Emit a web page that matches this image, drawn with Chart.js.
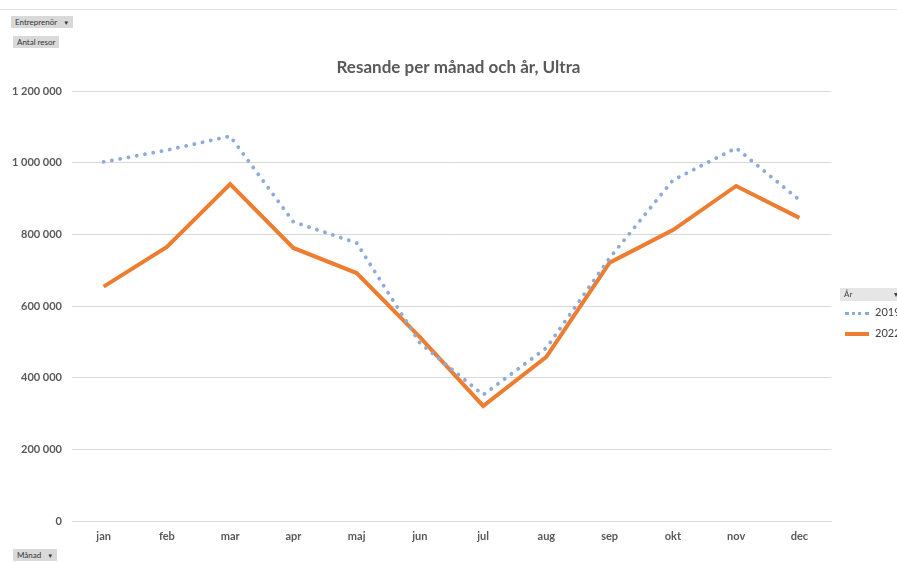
<!DOCTYPE html>
<html>
<head>
<meta charset="utf-8">
<script src="https://cdn.jsdelivr.net/npm/chart.js@4"></script>
<style>
  body { margin: 0; background: #fff; font-family: Lato, "Open Sans", sans-serif; }
  #wrap { position: relative; width: 897px; height: 562px; overflow: hidden; }
  #topline { position: absolute; left: 0; top: 9px; width: 897px; height: 1px; background: #e3e3e3; }
  canvas { position: absolute; left: 0; top: 0; }
  .btn { position: absolute; background: #d9d9d9; color: #333; font-size: 8px; line-height: 12px; height: 12px; padding: 0 4px; white-space: nowrap; }
  .btn .arr { font-size: 6px; margin-left: 6px; }
  #legend { position: absolute; left: 840px; top: 288px; width: 70px; font-size: 11px; color: #404040; }
  #legend .head { background: #e6e6e6; height: 13px; line-height: 13px; font-size: 8px; padding-left: 4px; }
  #legend .item { height: 21px; line-height: 21px; white-space: nowrap; }
  #legend .sw { display: inline-block; width: 24px; height: 0; vertical-align: middle; margin: 0 6px 0 5px; }
</style>
</head>
<body>
<div id="wrap">
  <div id="topline"></div>
  <canvas id="ultraCanvas" width="897" height="562"></canvas>
  <div class="btn" style="left:11px;top:16px;">Entreprenör<span class="arr">▼</span></div>
  <div class="btn" style="left:13px;top:36px;">Antal resor</div>
  <div class="btn" style="left:13px;top:549px;">Månad<span class="arr">▼</span></div>
  <div id="legend"></div>
</div>
<script>
// data
const months = ['jan', 'feb', 'mar', 'apr', 'maj', 'jun', 'jul', 'aug', 'sep', 'okt', 'nov', 'dec'];
const travelers2019 = [1002000, 1035000, 1074000, 835000, 776000, 497000, 352000, 483000, 734000, 951000, 1041000, 896000];
const travelers2022 = [654000, 765000, 940000, 762000, 692000, 513000, 321000, 458000, 721000, 812000, 935000, 846000];
const seriesNames = ['2019', '2022'];
const yTicks = [0, 200000, 400000, 600000, 800000, 1000000, 1200000];
const chartTitle = 'Resande per månad och år, Ultra';

const BLUE = '#8eaadb';
const ORANGE = '#ed7d31';

// html legend (Excel pivot style)
const legend = document.getElementById('legend');
legend.innerHTML = '<div class="head">År<span style="float:right;margin-right:4px;">▾▼</span></div>' +
    `<div class="item"><span class="sw" style="border-top:3px dotted ${BLUE};"></span>${seriesNames[0]}</div>` +
    `<div class="item"><span class="sw" style="border-top:4px solid ${ORANGE};"></span>${seriesNames[1]}</div>`;

function formatNumber(v) {
    return v.toString().replace(/\B(?=(\d{3})+(?!\d))/g, ' ');
}

// title centred over the plot area, like Excel does
const plotTitle = {
    id: 'plotTitle',
    afterDraw(chart) {
        const ctx = chart.ctx;
        const area = chart.chartArea;
        ctx.save();
        ctx.font = 'bold 17px Lato';
        ctx.fillStyle = '#595959';
        ctx.textAlign = 'center';
        ctx.textBaseline = 'middle';
        ctx.fillText(chartTitle, (area.left + area.right) / 2 + 7, 68);
        ctx.restore();
    }
};

const myChart = new Chart(document.getElementById('ultraCanvas').getContext('2d'), {
    type: 'line',
    data: {
        labels: months,
        datasets: [
            {
                label: seriesNames[0],
                data: travelers2019,
                borderColor: BLUE,
                borderWidth: 3.8,
                borderDash: [0.1, 8.3],
                borderCapStyle: 'round',
                pointRadius: 0,
                tension: 0
            },
            {
                label: seriesNames[1],
                data: travelers2022,
                borderColor: ORANGE,
                borderWidth: 4,
                pointRadius: 0,
                borderJoinStyle: 'miter',
                tension: 0
            }
        ]
    },
    plugins: [plotTitle],
    options: {
        responsive: false,
        animation: false,
        layout: {
            padding: { left: 0, right: 66, top: 91, bottom: 0 }
        },
        plugins: {
            legend: { display: false },
            tooltip: { enabled: false },
            title: { display: false }
        },
        scales: {
            x: {
                offset: true,
                grid: { display: false, drawTicks: false },
                border: { display: true, color: '#d9d9d9' },
                ticks: {
                    color: '#595959',
                    padding: 9,
                    font: { family: 'Lato', size: 11, weight: 'bold' }
                },
                afterFit: scale => { scale.height = 41; }
            },
            y: {
                min: 0,
                max: 1200000,
                afterBuildTicks: scale => { scale.ticks = yTicks.map(v => ({ value: v })); },
                grid: { color: '#d9d9d9', drawTicks: false },
                border: { display: false },
                ticks: {
                    color: '#595959',
                    padding: 10,
                    font: { family: 'Lato', size: 11, weight: 'bold' },
                    callback: v => formatNumber(v)
                },
                afterFit: scale => { scale.width = 72; }
            }
        }
    }
});
</script>
</body>
</html>
